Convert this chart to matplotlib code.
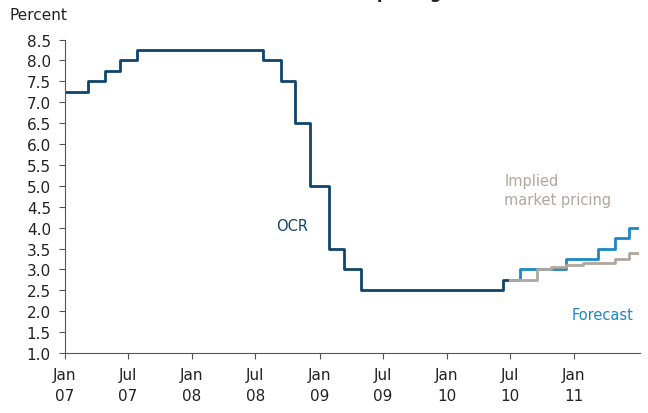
import matplotlib
matplotlib.use("Agg")
import matplotlib.pyplot as plt
import numpy as np

plt.rcParams.update({"font.family": "DejaVu Sans", "font.size": 11})

# OCR history (steps)
ocr_dates = ["2007-01-01", "2007-03-08", "2007-04-26", "2007-06-07", "2007-07-26",
             "2008-07-24", "2008-09-11", "2008-10-23", "2008-12-04", "2009-01-29",
             "2009-03-12", "2009-04-30", "2010-06-10", "2010-06-24"]
ocr_vals = [7.25, 7.50, 7.75, 8.00, 8.25, 8.00, 7.50, 6.50, 5.00, 3.50, 3.00, 2.50, 2.75, 2.75]

# forecast track
fc_dates = ["2010-06-24", "2010-07-29", "2010-12-09", "2011-03-10", "2011-04-28",
            "2011-06-09", "2011-07-01"]
fc_vals = [2.75, 3.00, 3.25, 3.50, 3.75, 4.00, 4.00]

# implied market pricing
mk_dates = ["2010-06-24", "2010-09-16", "2010-10-28", "2010-12-09", "2011-01-27",
            "2011-04-28", "2011-06-09", "2011-07-01"]
mk_vals = [2.75, 3.00, 3.06, 3.10, 3.16, 3.25, 3.40, 3.40]

tick_dates = ["2007-01-01", "2007-07-01", "2008-01-01", "2008-07-01", "2009-01-01",
              "2009-07-01", "2010-01-01", "2010-07-01", "2011-01-01"]
tick_labels = ["Jan\n07", "Jul\n07", "Jan\n08", "Jul\n08", "Jan\n09",
               "Jul\n09", "Jan\n10", "Jul\n10", "Jan\n11"]

c_ocr, c_fc, c_mk = "#0f456a", "#1a88c6", "#b0a79d"

fig = plt.figure(figsize=(6.48, 4.14), dpi=100)
ax = fig.add_axes([0.100, 0.145, 0.888, 0.757])

d = lambda s: np.array(s, dtype="datetime64[D]")
ax.plot(d(fc_dates), fc_vals, drawstyle="steps-post", color=c_fc, lw=2.0)
ax.plot(d(mk_dates), mk_vals, drawstyle="steps-post", color=c_mk, lw=2.0)
ax.plot(d(ocr_dates), ocr_vals, drawstyle="steps-post", color=c_ocr, lw=2.0)

ax.set_xlim(np.datetime64("2007-01-01"), np.datetime64("2011-07-10"))
ax.set_ylim(1.0, 8.5)
ax.set_yticks(np.arange(1.0, 8.51, 0.5))
ax.set_yticklabels([f"{v:.1f}" for v in np.arange(1.0, 8.51, 0.5)])
ax.set_xticks(d(tick_dates))
ax.set_xticklabels(tick_labels, linespacing=1.5)
ax.tick_params(direction="out", length=4, width=0.8, color="#555555", labelcolor="#222222")
ax.tick_params(axis="x", pad=6)
ax.tick_params(axis="y", pad=6)
for s in ["top", "right"]:
    ax.spines[s].set_visible(False)
for s in ["left", "bottom"]:
    ax.spines[s].set_color("#555555")
    ax.spines[s].set_linewidth(0.8)

ax.text(np.datetime64("2008-10-15"), 4.05, "OCR", color=c_ocr, ha="center", va="center", fontsize=10.5)
ax.text(np.datetime64("2010-06-15"), 4.9, "Implied\nmarket pricing", color=c_mk,
        ha="left", va="center", fontsize=10.5, linespacing=1.35)
ax.text(np.datetime64("2010-12-25"), 1.93, "Forecast", color=c_fc, ha="left", va="center", fontsize=10.5)

fig.text(0.015, 0.962, "Percent", ha="left", va="center", fontsize=11, color="#222222")
# chart title, cut off at the top edge in the original
fig.text(0.681, 1.004, "OCR and market pricing", ha="right", va="baseline",
         fontsize=12, fontweight="bold", color="#222222")

fig.savefig("out.png", dpi=100)
